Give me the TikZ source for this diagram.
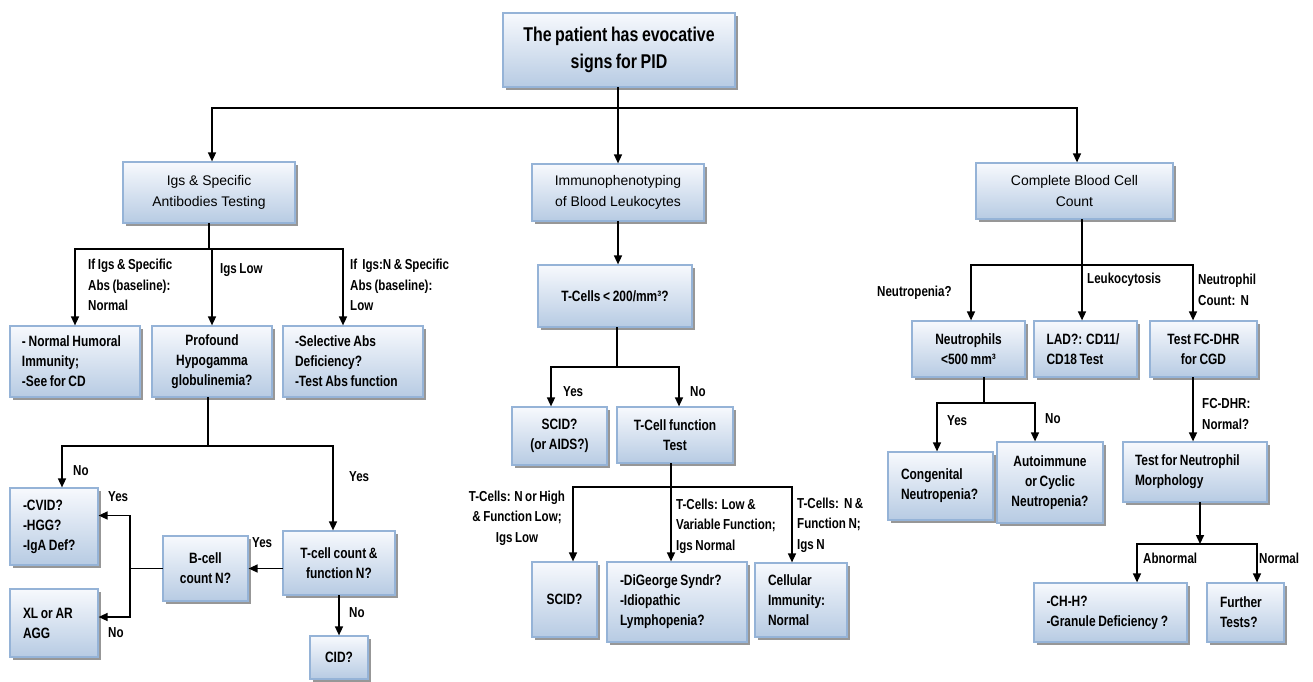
\documentclass[tikz,border=0pt]{standalone}
\usepackage{fontspec}
\setmainfont{Liberation Sans}
\newfontfamily\nb{Liberation Sans}[FakeStretch=0.8, WordSpace=0.8]
\usetikzlibrary{arrows.meta,shadows}
\definecolor{boxtop}{HTML}{F7F9FD}
\definecolor{boxbot}{HTML}{B7CBE3}
\definecolor{boxline}{HTML}{95B3D7}
\definecolor{shadowc}{HTML}{8C8C8C}
\begin{document}
\begin{tikzpicture}[x=1bp,y=-1bp,
  box/.style={draw=boxline, line width=1.2bp, top color=boxtop, bottom color=boxbot,
    drop shadow={shadow xshift=3bp, shadow yshift=-3bp, fill=shadowc, opacity=0.9},
    inner sep=0pt, font=\nb\bfseries\fontsize{15}{20}\selectfont, align=center},
  lbox/.style={box, align=flush left},
  lvl/.style={box, font=\fontsize{14}{21}\selectfont},
  topbox/.style={box, font=\nb\bfseries\fontsize{20}{27}\selectfont},
  lbl/.style={inner sep=0pt, anchor=west, align=left, font=\nb\bfseries\fontsize{14.5}{20.5}\selectfont},
  conn/.style={line width=1.5bp, draw=black, line cap=rect},
  arr/.style={conn, -{Triangle[length=9bp,width=8bp]}},
]
\fill[white] (0,0) rectangle (1313,681);
\useasboundingbox (0,0) rectangle (1313,681);

% boxes
\node[topbox, minimum width=232bp, minimum height=74bp] (top) at (619,50) {The patient has evocative\\signs for PID};
\node[lvl, minimum width=172bp, minimum height=61bp] (ig) at (209,192.5) {Igs \& Specific\\Antibodies Testing};
\node[lvl, minimum width=172bp, minimum height=57bp] (imm) at (618,192.5) {Immunophenotyping\\of Blood Leukocytes};
\node[lvl, minimum width=197bp, minimum height=56bp] (cbc) at (1074.5,191) {Complete Blood Cell\\Count};

\node[lbox, minimum width=130bp, minimum height=71bp, text width=106bp] (nh) at (75,361.5) {- Normal Humoral\\Immunity;\\-See for CD};
\node[box, minimum width=120bp, minimum height=71bp] (pro) at (212,361.5) {Profound\\Hypogamma\\globulinemia?};
\node[lbox, minimum width=140bp, minimum height=71bp, text width=116bp] (sel) at (353,361.5) {-Selective Abs\\Deficiency?\\-Test Abs function};
\node[lbox, minimum width=88bp, minimum height=77bp, text width=62bp] (cvid) at (54,526.5) {-CVID?\\-HGG?\\-IgA Def?};
\node[lbox, minimum width=88bp, minimum height=68bp, text width=62bp] (xl) at (54,623) {XL or AR\\AGG};
\node[box, minimum width=85bp, minimum height=65bp] (bcell) at (205.5,568.5) {B-cell\\count N?};
\node[box, minimum width=112bp, minimum height=64bp] (tcc) at (339,563) {T-cell count \&\\function N?};
\node[box, minimum width=58bp, minimum height=43bp] (cid) at (339,657.5) {CID?};

\node[box, minimum width=154bp, minimum height=62bp] (tc200) at (615,296) {T-Cells < 200/mm³?};
\node[box, minimum width=95bp, minimum height=58bp] (scid1) at (559.5,436) {SCID?\\(or AIDS?)};
\node[box, minimum width=116bp, minimum height=56bp] (tcf) at (675,435) {T-Cell function\\Test};
\node[box, minimum width=65bp, minimum height=75bp] (scid2) at (564.5,599.5) {SCID?};
\node[lbox, minimum width=140bp, minimum height=80bp, text width=114bp] (dig) at (677,602) {-DiGeorge Syndr?\\-Idiopathic\\Lymphopenia?};
\node[lbox, minimum width=92bp, minimum height=74bp, text width=66bp] (cell) at (801,600) {Cellular\\Immunity:\\Normal};

\node[box, minimum width=113bp, minimum height=56bp] (neut) at (968.5,349) {Neutrophils\\<500 mm³};
\node[lbox, minimum width=103bp, minimum height=56bp, text width=78bp] (lad) at (1085.5,349) {LAD?: CD11/\\CD18 Test};
\node[box, minimum width=107bp, minimum height=56bp] (fcdhr) at (1203.5,349) {Test FC-DHR\\for CGD};
\node[lbox, minimum width=105bp, minimum height=68bp, text width=79bp] (cong) at (940.5,486) {Congenital\\Neutropenia?};
\node[box, minimum width=106bp, minimum height=81bp] (auto) at (1050,482.5) {Autoimmune\\or Cyclic\\Neutropenia?};
\node[lbox, minimum width=144bp, minimum height=60bp, text width=120bp] (morph) at (1195,472) {Test for Neutrophil\\Morphology};
\node[lbox, minimum width=153bp, minimum height=59bp, text width=128bp] (chh) at (1110.5,612.5) {-CH-H?\\-Granule Deficiency ?};
\node[lbox, minimum width=77bp, minimum height=59bp, text width=51bp] (fur) at (1245.5,612.5) {Further\\Tests?};

% junction coordinates
\coordinate (j1) at (617,108);
\coordinate (j2) at (210,249);
\coordinate (j3) at (208,446);
\coordinate (j5) at (130,568.5);
\coordinate (j6) at (617,367);
\coordinate (j7) at (671,487);
\coordinate (j8) at (1082,265);
\coordinate (j9) at (984,403);
\coordinate (j10) at (1200,544);

% top level
\draw[conn] ([xshift=3bp]ig.north |- j1) -- ([xshift=2.5bp]cbc.north |- j1);
\draw[arr] ([xshift=3bp]ig.north |- j1) -- ([xshift=3bp]ig.north);
\draw[arr] ([xshift=2.5bp]cbc.north |- j1) -- ([xshift=2.5bp]cbc.north);
\draw[arr] (imm.north |- top.south) -- (imm.north);

% Ig branch
\draw[conn] (ig.south) -- (ig.south |- j2);
\draw[conn] (j2 -| nh.north) -- ([xshift=-10bp]j2 -| sel.north);
\draw[arr] (j2 -| nh.north) -- (nh.north);
\draw[arr] (j2 -| pro.north) -- (pro.north);
\draw[arr] ([xshift=-10bp]j2 -| sel.north) -- ([xshift=-10bp]sel.north);

\draw[conn] ([xshift=-4bp]pro.south) -- ([xshift=-4bp]pro.south |- j3);
\draw[conn] ([xshift=8bp]j3 -| cvid.north) -- ([xshift=-6bp]j3 -| tcc.north);
\draw[arr] ([xshift=8bp]j3 -| cvid.north) -- ([xshift=8bp]cvid.north);
\draw[arr] ([xshift=-6bp]j3 -| tcc.north) -- ([xshift=-6bp]tcc.north);

\draw[arr] (tcc.west |- bcell.east) -- (bcell.east);
\draw[conn] (bcell.west) -- (j5);
\draw[arr] (j5) |- ([yshift=11bp]cvid.east);
\draw[arr] (j5) |- ([yshift=6bp]xl.east);
\draw[arr] (tcc.south) -- (cid.north);

% Immunophenotyping branch
\draw[arr] (imm.south) -- (imm.south |- tc200.north);
\draw[conn] ([xshift=2bp]tc200.south) -- ([xshift=2bp]tc200.south |- j6);
\draw[conn] ([xshift=-8.5bp]j6 -| scid1.north) -- ([xshift=4bp]j6 -| tcf.north);
\draw[arr] ([xshift=-8.5bp]j6 -| scid1.north) -- ([xshift=-8.5bp]scid1.north);
\draw[arr] ([xshift=4bp]j6 -| tcf.north) -- ([xshift=4bp]tcf.north);
\draw[arr] ([xshift=-4bp]tcf.south) -- ([xshift=-4bp]tcf.south |- dig.north);
\draw[conn] ([xshift=8.5bp]j7 -| scid2.north) -- ([xshift=-9bp]j7 -| cell.north);
\draw[arr] ([xshift=8.5bp]j7 -| scid2.north) -- ([xshift=8.5bp]scid2.north);
\draw[arr] ([xshift=-9bp]j7 -| cell.north) -- ([xshift=-9bp]cell.north);

% CBC branch
\draw[arr] ([xshift=7.5bp]cbc.south) -- ([xshift=7.5bp]cbc.south |- lad.north);
\draw[conn] ([xshift=2.5bp]j8 -| neut.north) -- ([xshift=-10.5bp]j8 -| fcdhr.north);
\draw[arr] ([xshift=2.5bp]j8 -| neut.north) -- ([xshift=2.5bp]neut.north);
\draw[arr] ([xshift=-10.5bp]j8 -| fcdhr.north) -- ([xshift=-10.5bp]fcdhr.north);
\draw[conn] ([xshift=15.5bp]neut.south) -- ([xshift=15.5bp]neut.south |- j9);
\draw[conn] ([xshift=-3.5bp]j9 -| cong.north) -- ([xshift=-15bp]j9 -| auto.north);
\draw[arr] ([xshift=-3.5bp]j9 -| cong.north) -- ([xshift=-3.5bp]cong.north);
\draw[arr] ([xshift=-15bp]j9 -| auto.north) -- ([xshift=-15bp]auto.north);
\draw[arr] ([xshift=-10.5bp]fcdhr.south) -- ([xshift=-10.5bp]fcdhr.south |- morph.north);
\draw[arr] ([xshift=5bp]morph.south) -- ([xshift=5bp]morph.south |- j10);
\draw[conn] ([xshift=26.5bp]j10 -| chh.north) -- ([xshift=11.5bp]j10 -| fur.north);
\draw[arr] ([xshift=26.5bp]j10 -| chh.north) -- ([xshift=26.5bp]chh.north);
\draw[arr] ([xshift=11.5bp]j10 -| fur.north) -- ([xshift=11.5bp]fur.north);

% labels
\node[lbl] (l1) at (88,285) {If Igs \& Specific\\Abs (baseline):\\Normal};
\node[lbl] (l2) at (220,270) {Igs Low};
\node[lbl] (l3) at (350,285) {If\ \ Igs:N \& Specific\\Abs (baseline):\\Low};
\node[lbl] (l4) at (73,471) {No};
\node[lbl] (l5) at (349,477) {Yes};
\node[lbl] (l6) at (252,543) {Yes};
\node[lbl] (l7) at (108,497) {Yes};
\node[lbl] (l8) at (108,633) {No};
\node[lbl] (l9) at (349,613) {No};
\node[lbl] (l10) at (563,392) {Yes};
\node[lbl] (l11) at (690,392) {No};
\node[lbl, anchor=center, align=center] (l12) at (517,518) {T-Cells: N or High\\\& Function Low;\\Igs Low};
\node[lbl] (l13) at (676,526) {T-Cells: Low \&\\Variable Function;\\Igs Normal};
\node[lbl] (l14) at (797,525) {T-Cells:\ \ N \&\\Function N;\\Igs N};
\node[lbl] (l15) at (877,293) {Neutropenia?};
\node[lbl] (l16) at (1087,280) {Leukocytosis};
\node[lbl] (l17) at (1198,290) {Neutrophil\\Count:\ \ N};
\node[lbl] (l18) at (947,421) {Yes};
\node[lbl] (l19) at (1045,419) {No};
\node[lbl] (l20) at (1202,414) {FC-DHR:\\Normal?};
\node[lbl] (l21) at (1143,558) {Abnormal};
\node[lbl] (l22) at (1259,558) {Normal};
\end{tikzpicture}
\end{document}
